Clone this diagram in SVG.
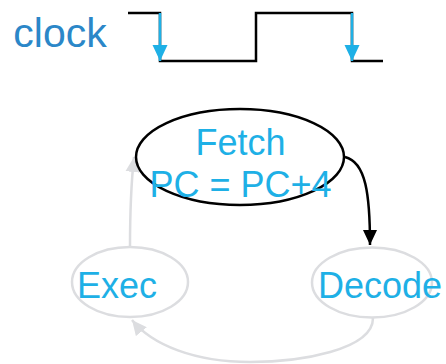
<svg xmlns="http://www.w3.org/2000/svg" width="446" height="364" viewBox="0 0 446 364">
  <style>
    .lbl { font-family: "Liberation Sans", Arial, sans-serif; fill: #1eb0e6; text-anchor: middle; }
    .wave { fill: none; stroke: #000; stroke-width: 2.5; }
    .tick { stroke: #1eb0e6; stroke-width: 2.5; }
    .active { fill: #fff; stroke: #000; stroke-width: 2.5; }
    .idle { fill: #fff; stroke: #dcdde0; stroke-width: 2.5; }
    .edge-on { fill: none; stroke: #000; stroke-width: 2.5; }
    .edge-off { fill: none; stroke: #dcdde0; stroke-width: 2.5; }
  </style>
  <defs>
    <marker id="headBlack" markerUnits="userSpaceOnUse" markerWidth="16" markerHeight="16" refX="15" refY="7" orient="auto" viewBox="0 0 16 14">
      <path d="M0,0 L15,7 L0,14 Z" fill="#000"/>
    </marker>
    <marker id="headGray" markerUnits="userSpaceOnUse" markerWidth="16" markerHeight="16" refX="15" refY="7" orient="auto" viewBox="0 0 16 14">
      <path d="M0,0 L15,7 L0,14 Z" fill="#dcdde0"/>
    </marker>
    <marker id="headBlue" markerUnits="userSpaceOnUse" markerWidth="17" markerHeight="17" refX="16" refY="7.5" orient="auto" viewBox="0 0 17 15">
      <path d="M0,0 L16,7.5 L0,15 Z" fill="#1eb0e6"/>
    </marker>
  </defs>

  <!-- clock signal -->
  <g id="clock">
    <text x="60" y="47" font-family="Liberation Sans, Arial, sans-serif" font-size="41" fill="#2b87c8" text-anchor="middle">clock</text>
    <path class="wave" d="M128,13 H160 V61 H256 V13 H352 V61 H383"/>
    <line class="tick" x1="160" y1="13" x2="160" y2="61" marker-end="url(#headBlue)"/>
    <line class="tick" x1="352" y1="13" x2="352" y2="61" marker-end="url(#headBlue)"/>
  </g>

  <!-- connectors -->
  <g id="connectors">
    <path class="edge-on" d="M345,157 C366,162 370,195 370,245" marker-end="url(#headBlack)"/>
    <path class="edge-off" d="M373,318 C373,350 300,362 250,362 C195,362 152,345 132,320" marker-end="url(#headGray)"/>
    <path class="edge-off" d="M130,247 C130,215 131,185 134,157" marker-end="url(#headGray)"/>
  </g>

  <!-- stages -->
  <g id="fetch">
    <ellipse class="active" cx="240" cy="157" rx="104" ry="48" fill-opacity="0"/>
    <text class="lbl" x="240.5" y="155" font-size="36">Fetch</text>
    <text class="lbl" x="240.5" y="197" font-size="36">PC = PC+4</text>
  </g>
  <g id="exec">
    <ellipse class="idle" cx="130" cy="282" rx="58" ry="35" fill-opacity="0"/>
    <text class="lbl" x="117" y="298" font-size="36">Exec</text>
  </g>
  <g id="decode">
    <ellipse class="idle" cx="372" cy="282.5" rx="60" ry="35" fill-opacity="0"/>
    <text class="lbl" x="380" y="298" font-size="36">Decode</text>
  </g>
</svg>
